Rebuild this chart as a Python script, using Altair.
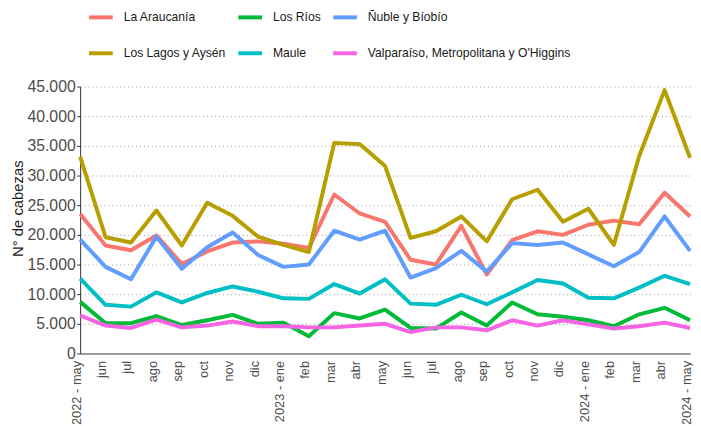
import altair as alt
import pandas as pd

tick_labels = ["2022 - may", "jun", "jul", "ago", "sep", "oct", "nov", "dic",
               "2023 - ene", "feb", "mar", "abr", "may", "jun", "jul", "ago",
               "sep", "oct", "nov", "dic", "2024 - ene", "feb", "mar", "abr",
               "2024 - may"]

la_araucania = [23500, 18200, 17400, 19900, 15100, 17200, 18700, 18900, 18500, 17800,
                26800, 23600, 22200, 15800, 15000, 21500, 13300, 19100, 20600, 20000,
                21700, 22400, 21800, 27100, 23100]
los_lagos = [33200, 19600, 18700, 24100, 18200, 25400, 23200, 19700, 18300, 17100,
             35500, 35300, 31600, 19500, 20600, 23100, 18900, 26000, 27600, 22200,
             24400, 18300, 33300, 44400, 33000]
los_rios = [8700, 5100, 5100, 6300, 4800, 5600, 6500, 5000, 5200, 2900,
            6800, 5900, 7400, 4300, 4200, 6900, 4700, 8600, 6600, 6200,
            5600, 4600, 6600, 7700, 5600]
maule = [12600, 8200, 7900, 10300, 8600, 10200, 11300, 10400, 9300, 9200,
         11700, 10100, 12500, 8400, 8200, 9900, 8300, 10300, 12400, 11800,
         9400, 9300, 11100, 13100, 11700]
nuble = [19200, 14600, 12500, 19700, 14300, 17900, 20400, 16600, 14600, 15000,
         20700, 19200, 20700, 12800, 14400, 17300, 13800, 18600, 18300, 18700,
         16700, 14700, 17100, 23100, 17300]
valparaiso = [6400, 4700, 4300, 5700, 4400, 4700, 5400, 4600, 4600, 4400,
              4400, 4700, 5000, 3600, 4400, 4400, 3900, 5600, 4700, 5600,
              4900, 4200, 4600, 5200, 4300]

series = {
    "La Araucanía": la_araucania,
    "Los Lagos y Aysén": los_lagos,
    "Los Ríos": los_rios,
    "Maule": maule,
    "Ñuble y Bíobío": nuble,
    "Valparaíso, Metropolitana y O'Higgins": valparaiso,
}

region_order = ["La Araucanía", "Los Lagos y Aysén", "Los Ríos", "Maule",
                "Ñuble y Bíobío", "Valparaíso, Metropolitana y O'Higgins"]
region_colors = ["#F8766D", "#B79F00", "#00BA38", "#00BFC4", "#619CFF", "#F564E3"]

rows = []
for name, vals in series.items():
    for i, v in enumerate(vals):
        rows.append({"mes": i, "region": name, "cabezas": v})
df = pd.DataFrame(rows)

label_expr = "[" + ",".join("'" + t + "'" for t in tick_labels) + "][datum.value]"

chart = alt.Chart(df).mark_line(strokeWidth=4, strokeJoin="round", strokeCap="butt").encode(
    x=alt.X("mes:Q",
            scale=alt.Scale(domain=[0, 24], nice=False, zero=False),
            axis=alt.Axis(values=list(range(25)), labelExpr=label_expr, labelAngle=-90,
                          labelBaseline="alphabetic", labelFontSize=13, labelColor="#4d4d4d",
                          ticks=False, labelPadding=7, grid=False, domainColor="#7f7f7f",
                          domainWidth=1.5, title=None, labelOverlap=False, labelFlush=False)),
    y=alt.Y("cabezas:Q",
            scale=alt.Scale(domain=[0, 45000], nice=False),
            axis=alt.Axis(values=list(range(0, 45001, 5000)),
                          labelExpr="replace(format(datum.value, ','), ',', '.')",
                          labelFontSize=16, labelColor="#4d4d4d", tickSize=3.5,
                          tickColor="#333333", domainColor="#333333", labelPadding=1.5,
                          gridDash=[1, 3], gridColor="#9a9a9a", labelFlush=False,
                          title="N° de cabezas", titleFontSize=15, titleFontWeight="normal",
                          titleColor="#222222", titleX=-58, titleY=123,
                          titleBaseline="alphabetic")),
    color=alt.Color("region:N",
                    scale=alt.Scale(domain=region_order, range=region_colors),
                    legend=alt.Legend(title=None, orient="none", legendX=7, legendY=-84,
                                      columns=3, direction="vertical",
                                      symbolType="stroke", symbolSize=576,
                                      symbolStrokeWidth=4, labelFontSize=12.3,
                                      labelColor="#1a1a1a", labelOffset=9,
                                      columnPadding=4, rowPadding=14.3, labelLimit=400)),
).properties(
    width=617, height=270,
    padding={"left": 73, "top": 77, "right": 3, "bottom": 80},
    autosize=alt.AutoSizeParams(type="none"),
).configure(font="Liberation Sans").configure_view(stroke=None)

chart.save("out.html", embed_options={"renderer": "svg", "actions": False})
